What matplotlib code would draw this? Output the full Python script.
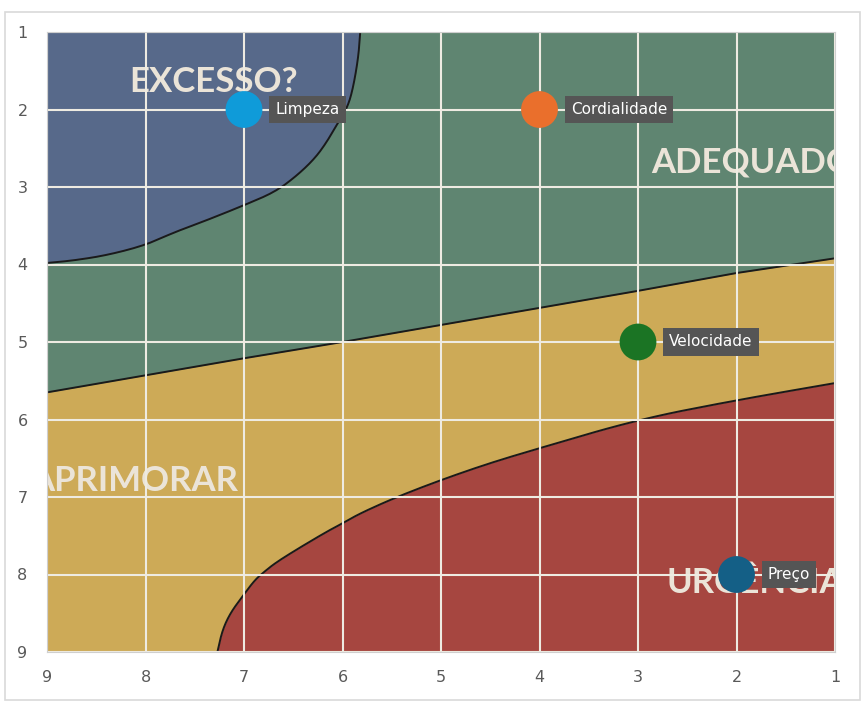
import matplotlib
matplotlib.use('Agg')
import numpy as np
import matplotlib.pyplot as plt
from matplotlib.patches import Rectangle

# pontos do gráfico
nomes = ['Limpeza', 'Cordialidade', 'Velocidade', 'Preço']
x_vals = [7, 4, 3, 2]
y_vals = [2, 2, 5, 8]
cores = ['#0f9bd9', '#ea6f2c', '#1b7424', '#145f86']

ticks = [1, 2, 3, 4, 5, 6, 7, 8, 9]

# fronteiras das zonas
excesso_x = [5.82, 5.84, 5.9, 5.96, 6.06, 6.16, 6.28, 6.46, 6.68, 6.97,
             7.38, 7.72, 8.0, 8.39, 8.74, 9.0]
excesso_y = [1.0, 1.34, 1.77, 2.0, 2.2, 2.42, 2.63, 2.85, 3.06, 3.22,
             3.43, 3.59, 3.75, 3.88, 3.95, 3.98]

adequado_x = [9, 8, 7, 6, 5, 4, 3, 2, 1]
adequado_y = [5.65, 5.43, 5.21, 5.0, 4.78, 4.56, 4.34, 4.11, 3.92]

urgencia_x = [7.27, 7.22, 7.14, 7.02, 6.89, 6.79, 6.67, 6.43, 6.15, 6.0,
              5.82, 5.45, 5.0, 4.5, 4.0, 3.0, 2.0, 1.0]
urgencia_y = [9.0, 8.72, 8.5, 8.29, 8.07, 7.96, 7.84, 7.65, 7.44, 7.34,
              7.21, 7.0, 6.78, 6.56, 6.37, 6.0, 5.75, 5.53]

zonas = ['EXCESSO?', 'ADEQUADO', 'APRIMORAR', 'URGÊNCIA']

azul = '#57698a'
verde = '#5f8571'
amarelo = '#cdaa57'
vermelho = '#a64640'
texto_zona = '#ebe4d8'


def suaviza(xs, ys, n=3):
    # arredonda os cantos da linha (Chaikin), mantendo as pontas
    p = np.column_stack([xs, ys]).astype(float)
    for _ in range(n):
        q = 0.75 * p[:-1] + 0.25 * p[1:]
        r = 0.25 * p[:-1] + 0.75 * p[1:]
        mid = np.empty((2 * len(q), 2))
        mid[0::2] = q
        mid[1::2] = r
        p = np.vstack([p[:1], mid, p[-1:]])
    return p[:, 0], p[:, 1]


fig = plt.figure(figsize=(8.65, 7.04), dpi=100)
fig.patches.append(Rectangle((5/865, 4/704), 855/865, 688/704, transform=fig.transFigure,
                             fc='white', ec='#d9d9d9', lw=1.2, zorder=-1))
ax = fig.add_axes([47/865, 52/704, 788/865, 620/704])
ax.set_facecolor(verde)

ex, ey = suaviza(excesso_x, excesso_y)
ux, uy = suaviza(urgencia_x, urgencia_y)

ax.fill_betweenx(ey, ex, 9, color=azul, lw=0, zorder=1)
ax.fill_between(adequado_x, adequado_y, 9, color=amarelo, lw=0, zorder=1)
ax.fill_betweenx(uy, ux, 1, color=vermelho, lw=0, zorder=1)

for bx, by in [(ex, ey), (adequado_x, adequado_y), (ux, uy)]:
    ax.plot(bx, by, color='#1a1a1a', lw=1.4, zorder=1.3)

fz = dict(family=['Lato', 'DejaVu Sans'], fontsize=25, weight='bold',
          color=texto_zona, clip_on=True, zorder=1.2, va='baseline')
ax.text(7.31, 1.77, zonas[0], ha='center', **fz)
ax.text(2.87, 2.81, zonas[1], ha='left', **fz)
ax.text(7.06, 6.92, zonas[2], ha='right', **fz)
ax.text(2.71, 8.24, zonas[3], ha='left', **fz)

ax.set_xlim(9, 1)
ax.set_ylim(9, 1)
ax.set_xticks(ticks)
ax.set_yticks(ticks)
ax.set_axisbelow('line')
ax.grid(True, color='#eeebe2', lw=1.5)
ax.tick_params(length=0, labelsize=11.5, labelcolor='#595959')
ax.tick_params(axis='x', pad=13)
ax.tick_params(axis='y', pad=14)
for s in ax.spines.values():
    s.set_color('#cfcfcf')
    s.set_linewidth(0.8)

ax.scatter(x_vals, y_vals, s=26.5**2, c=cores, lw=0, zorder=4)
for nome, x, y in zip(nomes, x_vals, y_vals):
    ax.annotate(nome, (x, y), xytext=(22.5, 0), textcoords='offset points',
                ha='left', va='center', fontsize=11, color='white',
                bbox=dict(boxstyle='square,pad=0.4', fc='#555555', ec='none'),
                zorder=5)

fig.savefig('out.png', dpi=100)
